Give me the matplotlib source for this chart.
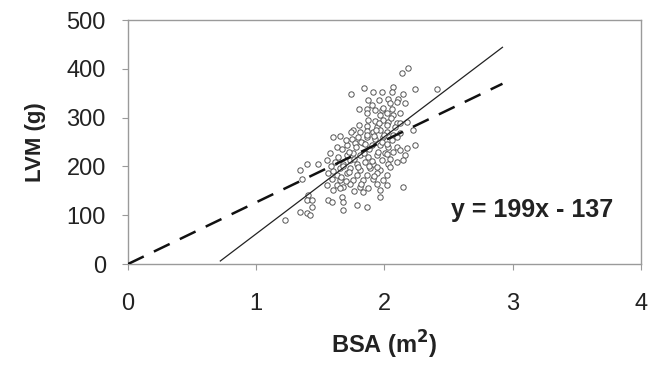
import numpy as np
import matplotlib
matplotlib.use("Agg")
import matplotlib.pyplot as plt

plt.rcParams['font.family'] = ['Liberation Sans', 'DejaVu Sans']

# Body surface area (m^2) and left ventricular mass (g) per subject
bsa = [2.186, 2.139, 1.840, 1.738, 1.913, 1.978, 2.063, 2.055, 2.238, 2.147,
       1.874, 1.959, 2.030, 2.108, 2.160, 2.095, 2.043, 1.803, 1.861, 1.926,
       1.978, 2.017, 2.121, 2.069, 1.965, 1.874, 1.926, 1.991, 2.030, 2.095,
       2.173, 1.939, 2.017, 1.861, 1.757, 1.809, 1.861, 1.913, 1.965, 2.017,
       2.069, 2.121, 2.225, 1.744, 1.796, 1.861, 1.926, 1.991, 2.056, 1.601,
       1.653, 1.627, 1.705, 1.770, 1.835, 1.900, 1.965, 2.030, 2.095, 2.173,
       2.238, 1.666, 1.575, 1.640, 1.705, 1.757, 1.809, 1.874, 1.939, 2.004,
       2.069, 2.121, 2.160, 2.043, 1.393, 1.484, 1.549, 1.614, 1.679, 1.731,
       1.783, 1.848, 1.913, 1.978, 2.030, 2.095, 2.147, 1.653, 1.731, 1.809,
       1.887, 1.965, 2.043, 1.341, 1.354, 1.562, 1.627, 1.705, 1.783, 1.861,
       1.939, 2.017, 1.588, 1.653, 1.757, 1.835, 1.913, 1.991, 1.549, 1.627,
       1.679, 1.731, 1.809, 1.874, 1.939, 2.017, 2.147, 1.601, 1.653, 1.835,
       1.965, 1.406, 1.393, 1.432, 1.562, 1.588, 1.666, 1.679, 1.783, 1.861,
       1.965, 1.341, 1.393, 1.432, 1.419, 1.679, 1.224, 2.410,
       1.72, 1.78, 1.82, 1.88, 1.92, 1.95, 1.98, 1.76, 1.84, 1.90,
       1.86, 1.80, 1.70, 1.74, 1.96, 2.00, 2.05, 2.08, 2.02, 1.68,
       1.72, 1.88, 1.94, 1.82, 1.76, 1.60, 1.58, 1.66, 1.70, 1.92,
       2.10, 2.12, 1.86, 1.90, 1.99, 2.06, 2.02, 1.79, 1.85, 1.93]
lvm = [401, 391, 360, 348, 352, 352, 362, 353, 358, 348,
       337, 336, 339, 339, 329, 333, 329, 317, 317, 316,
       316, 309, 309, 305, 305, 295, 294, 295, 292, 288,
       292, 281, 285, 283, 275, 271, 273, 271, 275, 271,
       264, 268, 275, 257, 261, 261, 257, 260, 254, 260,
       262, 240, 244, 247, 247, 244, 244, 240, 240, 237,
       244, 235, 227, 220, 223, 227, 223, 220, 223, 227,
       230, 234, 223, 216, 206, 206, 213, 210, 206, 213,
       206, 210, 206, 213, 206, 210, 213, 196, 196, 193,
       196, 193, 199, 193, 175, 186, 182, 186, 182, 182,
       186, 182, 175, 172, 172, 172, 175, 172, 162, 162,
       158, 165, 158, 155, 165, 162, 158, 152, 155, 148,
       152, 141, 131, 131, 131, 128, 138, 128, 121, 117,
       138, 107, 104, 117, 100, 111, 90, 359,
       230, 240, 250, 235, 262, 230, 250, 215, 228, 212,
       265, 285, 255, 270, 290, 265, 300, 280, 245, 200,
       188, 200, 198, 165, 150, 190, 200, 178, 170, 180,
       260, 290, 310, 325, 320, 318, 225, 198, 245, 275]

# Least-squares regression and proportional (through-origin) fit
reg_slope, reg_intercept = 199, -137
reg_range = [0.72, 2.92]
prop_slope = 126.5
prop_range = [0.0, 2.92]

fig = plt.figure(figsize=(6.51, 3.74), dpi=100)
ax = fig.add_axes([0.1966, 0.294, 0.788, 0.6525])

ax.scatter(bsa, lvm, s=15, facecolors='white', edgecolors='#555555',
           linewidths=0.7, zorder=3)

xr = np.array(reg_range)
ax.plot(xr, reg_slope * xr + reg_intercept, color='#222222', lw=0.9, zorder=4)
xp = np.array(prop_range)
ax.plot(xp, prop_slope * xp, color='#111111', lw=1.8, zorder=4,
        dashes=(7, 4.5))

ax.text(3.15, 110, 'y = 199x - 137', fontsize=18, fontweight='bold',
        ha='center', va='center', color='#222222')

ax.set_xlim(0, 4)
ax.set_ylim(0, 500)
ax.set_xticks([0, 1, 2, 3, 4])
ax.set_yticks([0, 100, 200, 300, 400, 500])

for side in ['left', 'right', 'top', 'bottom']:
    ax.spines[side].set_color('#9a9a9a')
    ax.spines[side].set_linewidth(1.0)

ax.tick_params(axis='both', colors='#9a9a9a', labelcolor='#222222',
               labelsize=17, length=4, width=0.8, direction='out')
ax.tick_params(axis='x', pad=17)
ax.tick_params(axis='y', pad=12)

ax.set_xlabel('BSA (m$^\\mathbf{2}$)', fontsize=17, fontweight='bold',
              color='#222222', labelpad=10)
ax.set_ylabel('LVM (g)', fontsize=16, fontweight='bold', color='#222222',
              labelpad=15)

fig.savefig('out.png', dpi=100)
